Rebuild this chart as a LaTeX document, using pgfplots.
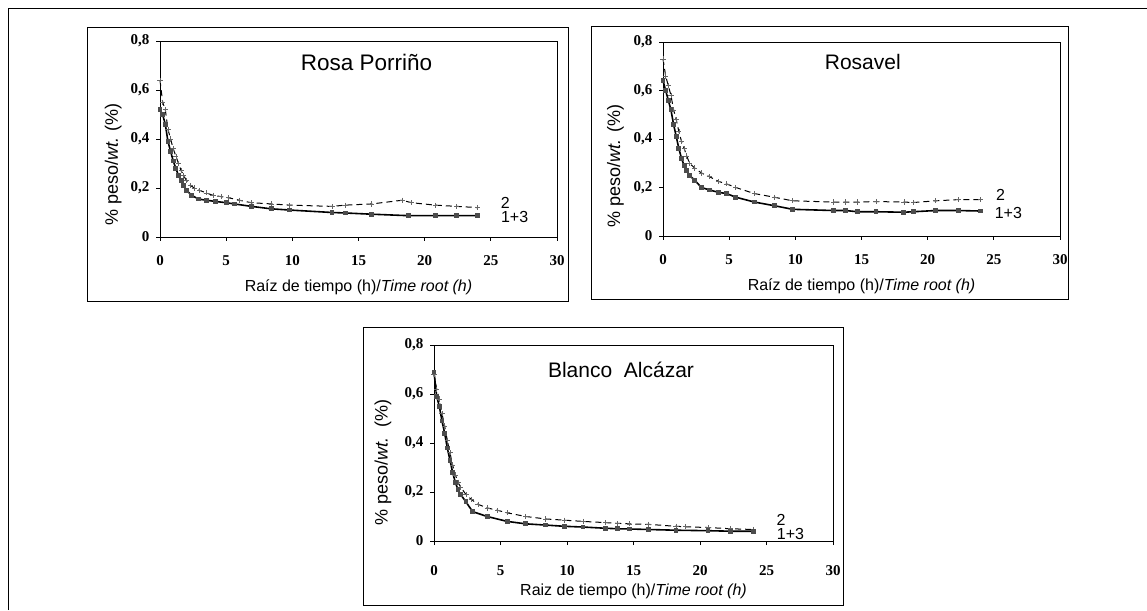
\documentclass[border=0pt]{standalone}
\usepackage{fontspec}
\setmainfont{Liberation Sans}
\newfontfamily\tickfont{Liberation Serif}
\usepackage{pgfplots}
\pgfplotsset{compat=1.18}

\pgfplotstableread{
x y
0 0.64
0.2 0.55
0.4 0.52
0.6 0.44
0.8 0.40
1.0 0.36
1.2 0.33
1.4 0.30
1.6 0.27
1.8 0.25
2.0 0.23
2.3 0.21
2.6 0.20
3.0 0.19
3.5 0.18
4.0 0.17
4.6 0.165
5.2 0.16
6.0 0.15
6.9 0.14
8.4 0.135
9.8 0.13
13.0 0.125
14.0 0.13
16.0 0.135
18.3 0.15
19.0 0.14
20.8 0.13
22.4 0.125
24.0 0.12
}\rpdos
\pgfplotstableread{
x y
0 0.52
0.2 0.50
0.4 0.46
0.6 0.39
0.8 0.35
1.0 0.31
1.2 0.28
1.4 0.25
1.6 0.23
1.8 0.21
2.0 0.19
2.4 0.17
2.9 0.155
3.5 0.15
4.2 0.145
5.0 0.14
5.6 0.135
6.9 0.125
8.4 0.115
9.8 0.11
13.0 0.10
14.0 0.098
16.0 0.093
18.8 0.087
20.8 0.087
22.4 0.087
24.0 0.087
}\rpuno
\pgfplotstableread{
x y
0 0.73
0.2 0.66
0.4 0.62
0.6 0.58
0.8 0.52
1.0 0.48
1.2 0.43
1.4 0.39
1.6 0.36
1.8 0.33
2.0 0.30
2.4 0.28
2.9 0.26
3.5 0.245
4.2 0.225
4.8 0.215
5.5 0.20
6.9 0.175
8.4 0.16
9.8 0.145
12.9 0.14
13.8 0.14
14.7 0.14
16.1 0.142
18.2 0.14
18.9 0.138
20.6 0.145
22.3 0.15
24.0 0.15
}\rvdos
\pgfplotstableread{
x y
0 0.64
0.2 0.60
0.4 0.56
0.6 0.52
0.8 0.46
1.0 0.41
1.2 0.36
1.4 0.32
1.6 0.29
1.8 0.27
2.0 0.25
2.4 0.23
2.9 0.20
3.5 0.19
4.2 0.18
4.8 0.175
5.5 0.16
6.9 0.14
8.4 0.125
9.8 0.11
12.9 0.105
13.8 0.105
14.7 0.10
16.1 0.10
18.2 0.098
18.9 0.10
20.6 0.105
22.3 0.105
24.0 0.103
}\rvuno
\pgfplotstableread{
x y
0 0.68
0.2 0.62
0.4 0.58
0.6 0.52
0.8 0.47
1.0 0.41
1.2 0.36
1.4 0.31
1.6 0.27
1.8 0.24
2.0 0.22
2.4 0.19
2.8 0.17
3.3 0.15
4.0 0.135
4.8 0.125
5.5 0.115
6.9 0.10
8.4 0.09
9.8 0.085
11.2 0.08
12.9 0.075
13.8 0.072
14.7 0.07
16.1 0.068
18.2 0.06
18.9 0.058
20.6 0.055
22.3 0.05
24.0 0.047
}\bados
\pgfplotstableread{
x y
0 0.69
0.2 0.59
0.4 0.55
0.6 0.49
0.8 0.44
1.0 0.38
1.2 0.33
1.4 0.28
1.6 0.24
1.8 0.21
2.0 0.19
2.4 0.16
2.9 0.12
4.0 0.10
5.5 0.08
6.9 0.07
8.4 0.065
9.8 0.06
11.2 0.057
12.9 0.052
13.8 0.05
14.7 0.049
16.1 0.047
18.2 0.044
20.6 0.042
22.3 0.04
24.0 0.04
}\bauno

\pgfplotsset{
  panel/.style={
    scale only axis, anchor=south west,
    width=397pt, height=196pt,
    xmin=0, xmax=30, ymin=0, ymax=0.8,
    xtick={0,5,10,15,20,25,30},
    ytick={0,0.2,0.4,0.6,0.8},
    tick pos=left, tick align=outside,
    major tick length=4pt,
    axis line style={line width=0.9pt},
    every tick/.style={line width=0.8pt, black},
    clip=false,
    /pgf/number format/assume math mode=true,
    /pgf/number format/use comma,
    /pgf/number format/fixed,
    /pgf/number format/precision=1,
    yticklabel style={font=\tickfont\bfseries\fontsize{15}{15}\selectfont, xshift=-3pt},
    xticklabel style={font=\tickfont\bfseries\fontsize{15}{15}\selectfont, yshift=-11pt},
    every axis x label/.style={at={(axis description cs:0.5,-0.257)}, anchor=center, font=\fontsize{16}{16}\selectfont},
    every axis y label/.style={at={(axis description cs:-0.118,0.37)}, rotate=90, anchor=center, font=\fontsize{18}{18}\selectfont},
  },
  dos/.style={black, line width=1pt, dash pattern=on 6pt off 4pt, mark=+, mark size=2.6pt, mark options={solid, black!60, line width=0.7pt}},
  uno/.style={black, line width=1.6pt, mark=square*, mark size=1.6pt, mark options={solid, black!70}},
}

\begin{document}
\begin{tikzpicture}
\path[use as bounding box] (0pt,0pt) rectangle (1147pt,610pt);
% outer frame
\draw[line width=1pt] (8pt,0pt) -- (8pt,601pt) -- (1147pt,601pt);
% panel frames
\draw[line width=1pt] (87pt,308pt) rectangle (568pt,582pt);
\draw[line width=1pt] (591pt,310pt) rectangle (1068pt,583pt);
\draw[line width=1pt] (363pt,5pt) rectangle (843pt,282pt);

\begin{axis}[panel, at={(160pt,373pt)}, height=196pt,
  xlabel={Raíz de tiempo (h)/\textit{Time root (h)}},
  ylabel={\% peso/\textit{wt.} (\%)}]
\addplot[dos] table {\rpdos};
\addplot[uno] table {\rpuno};
\node[font=\fontsize{22.5}{22.5}\selectfont] at (axis cs:15.6,0.714) {Rosa Porriño};
\node[font=\fontsize{16}{16}\selectfont] at (axis cs:26.1,0.139) {2};
\node[font=\fontsize{16}{16}\selectfont] at (axis cs:26.8,0.082) {1+3};
\end{axis}

\begin{axis}[panel, at={(663pt,374pt)}, height=194pt,
  xlabel={Raíz de tiempo (h)/\textit{Time root (h)}},
  ylabel={\% peso/\textit{wt.} (\%)},
  every axis y label/.append style={at={(axis description cs:-0.12,0.36)}}]
\addplot[dos] table {\rvdos};
\addplot[uno] table {\rvuno};
\node[font=\fontsize{21}{21}\selectfont] at (axis cs:15.1,0.717) {Rosavel};
\node[font=\fontsize{16}{16}\selectfont] at (axis cs:25.5,0.169) {2};
\node[font=\fontsize{16}{16}\selectfont] at (axis cs:26.1,0.095) {1+3};
\end{axis}

\begin{axis}[panel, at={(434pt,69pt)}, width=399pt, height=196pt,
  xticklabel style={yshift=-6pt},
  xlabel={Raiz de tiempo (h)/\textit{Time root (h)}},
  ylabel={\% peso/\textit{wt.}\ \ (\%)},
  every axis y label/.append style={at={(axis description cs:-0.128,0.40)}}]
\addplot[dos] table {\bados};
\addplot[uno] table {\bauno};
\node[font=\fontsize{21}{21}\selectfont] at (axis cs:14.06,0.698) {Blanco\ \ Alcázar};
\node[font=\fontsize{16}{16}\selectfont] at (axis cs:26.1,0.086) {2};
\node[font=\fontsize{16}{16}\selectfont] at (axis cs:26.8,0.029) {1+3};
\end{axis}
\end{tikzpicture}
\end{document}
